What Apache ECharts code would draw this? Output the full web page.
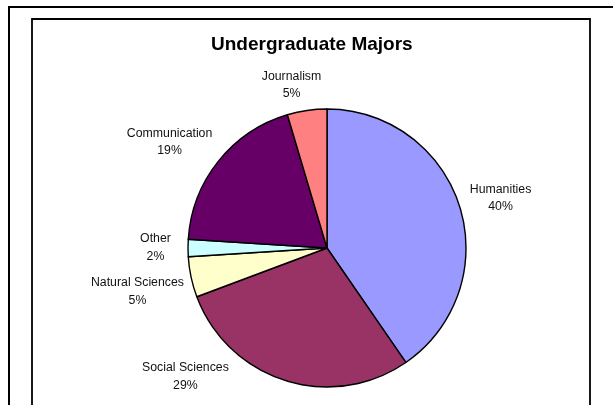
<!DOCTYPE html>
<html>
<head>
<meta charset="utf-8">
<script src="https://cdn.jsdelivr.net/npm/echarts@6/dist/echarts.min.js"></script>
<style>
  html, body { margin: 0; padding: 0; background: #fff; }
  #chart { width: 613px; height: 405px; }
</style>
</head>
<body>
<div id="chart"></div>
<script>
// ---- data ----
const categories = ['Humanities', 'Social Sciences', 'Natural Sciences', 'Other', 'Communication', 'Journalism'];
const values = [40.4, 28.9, 4.7, 2.0, 19.4, 4.6];
const colors = ['#9999FF', '#993366', '#FFFFCC', '#CCFFFF', '#660066', '#FF8080'];

// ---- layout / style (not data) ----
const CX = 327, CY = 248, R = 139;
const FONT = '"Liberation Sans", Arial, sans-serif';
// label placement relative to each slice's mid-angle: [angle shift (deg), distance from centre]
const labelAngleShift = [1.2, 30.3, -0.9, 0.1, -4.6, -4.0];
const labelDistance = [180.6, 191.3, 194.5, 171.5, 189.7, 166.8];

const total = values.reduce((a, b) => a + b, 0);
const midAngles = [];
let acc = 0;
values.forEach(v => { midAngles.push((acc + v / 2) / total * 360); acc += v; });

const chart = echarts.init(document.getElementById('chart'), null, { renderer: 'canvas' });
chart.setOption({
  backgroundColor: '#ffffff',
  animation: false,
  title: {
    text: 'Undergraduate Majors',
    left: 211,
    top: 35,
    padding: 0,
    textStyle: { fontFamily: FONT, fontSize: 19, fontWeight: 'bold', color: '#000' }
  },
  graphic: [
    { type: 'rect', silent: true, shape: { x: 9, y: 7, width: 700, height: 500 },
      style: { fill: 'none', stroke: '#000', lineWidth: 2 } },
    { type: 'rect', silent: true, shape: { x: 32, y: 19, width: 558, height: 500 },
      style: { fill: 'none', stroke: '#000', lineWidth: 1.8 } }
  ],
  series: [{
    type: 'pie',
    center: [CX, CY],
    radius: R,
    startAngle: 90,
    clockwise: true,
    avoidLabelOverlap: false,
    data: categories.map((c, i) => ({ name: c, value: values[i], itemStyle: { color: colors[i] } })),
    itemStyle: { borderColor: '#000', borderWidth: 1.4 },
    emphasis: { disabled: true },
    label: {
      show: true,
      position: 'outside',
      fontFamily: FONT,
      fontSize: 12.3,
      lineHeight: 17.5,
      color: '#111',
      align: 'center',
      formatter: p => p.name + '\n' + Math.round(p.percent) + '%'
    },
    labelLine: { show: false },
    labelLayout: function (p) {
      const i = p.dataIndex;
      const a = (midAngles[i] + labelAngleShift[i]) * Math.PI / 180;
      const d = labelDistance[i];
      return {
        x: CX + d * Math.sin(a),
        y: CY - d * Math.cos(a),
        align: 'center',
        verticalAlign: 'middle'
      };
    }
  }]
});
</script>
</body>
</html>
